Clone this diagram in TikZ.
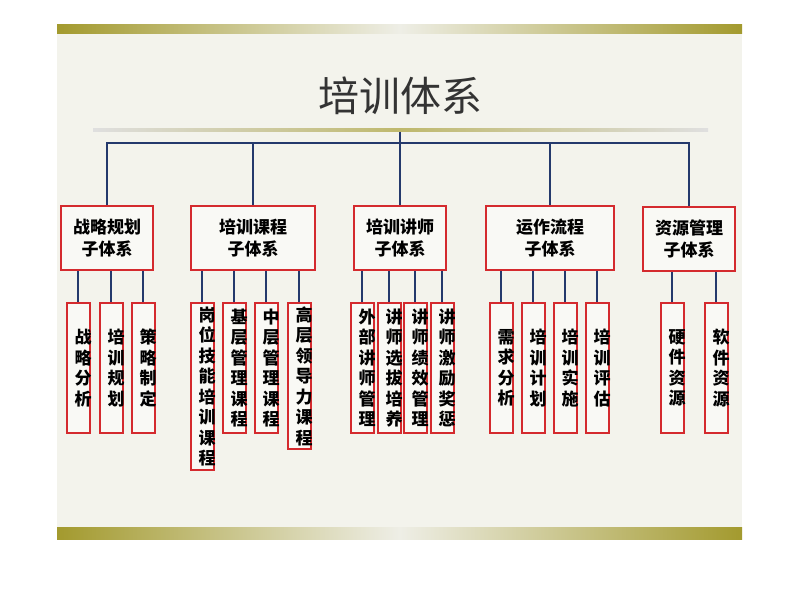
\documentclass[tikz,border=0pt]{standalone}
\usepackage{fontspec}
\newfontfamily\cjk{Noto Sans CJK SC}
\definecolor{slidebg}{HTML}{F3F3EC}
\definecolor{gold}{HTML}{A39A2E}
\definecolor{goldlight}{HTML}{EEEEE6}
\definecolor{linkblue}{HTML}{24396C}
\definecolor{boxred}{HTML}{D42A2E}
\definecolor{titlegray}{HTML}{333333}

\tikzset{
  subsys/.style={draw=boxred, line width=2.4pt, fill=slidebg!50!white, minimum height=64pt,
    inner sep=0pt, align=center, font=\cjk\bfseries\fontsize{17}{21.5}\selectfont},
  leafbox/.style={draw=boxred, line width=2pt, fill=slidebg!50!white, minimum width=23pt,
    minimum height=130pt, anchor=north, inner sep=0pt},
  leaftext/.style={xshift=5pt, align=center, font=\cjk\bfseries\fontsize{17}{20.5}\selectfont},
  link/.style={draw=linkblue, line width=1.6pt},
}

\begin{document}
\begin{tikzpicture}[x=1pt, y=-1pt]
        \useasboundingbox (0,0) rectangle (800,600);
        % slide
        \fill[white] (0,0) rectangle (800,600);
        \fill[slidebg] (57,24) rectangle (742,539);
        \shade[left color=gold, right color=gold, middle color=goldlight] (57,24) rectangle (742,33);
        \shade[left color=gold, right color=gold, middle color=goldlight] (57,527) rectangle (742,539);

        % title and rule
        \node[font=\cjk\fontsize{41}{41}\selectfont, text=titlegray] (title) at (400,96) {培训体系};
        \shade[left color=gray!25, right color=gray!25, middle color=gold!70] (93,128.5) rectangle (708,131.5);
        \coordinate (rule) at (400,131.5);
        \coordinate (bus) at (400,143);

        % sub systems
        \node[subsys, minimum width=92pt] (s1) at (107,238) {战略规划\\子体系};
        \node[subsys, minimum width=124pt] (s2) at (253,238) {培训课程\\子体系};
        \node[subsys, minimum width=92pt] (s3) at (400,238) {培训讲师\\子体系};
        \node[subsys, minimum width=128pt] (s4) at (550,238) {运作流程\\子体系};
        \node[subsys, minimum width=92pt] (s5) at (689,239) {资源管理\\子体系};

        % leaves
        \node[leafbox, label={[leaftext]center:{战\\略\\分\\析}}] (l1) at (78,302) {};
        \node[leafbox, label={[leaftext]center:{培\\训\\规\\划}}] (l2) at (111,302) {};
        \node[leafbox, label={[leaftext]center:{策\\略\\制\\定}}] (l3) at (143,302) {};

        \node[leafbox, minimum height=167pt, label={[leaftext]center:{岗\\位\\技\\能\\培\\训\\课\\程}}] (l4) at (202,302) {};
        \node[leafbox, label={[leaftext]center:{基\\层\\管\\理\\课\\程}}] (l5) at (234,302) {};
        \node[leafbox, label={[leaftext]center:{中\\层\\管\\理\\课\\程}}] (l6) at (266,302) {};
        \node[leafbox, minimum height=146pt, label={[leaftext]center:{高\\层\\领\\导\\力\\课\\程}}] (l7) at (299,302) {};

        \node[leafbox, label={[leaftext]center:{外\\部\\讲\\师\\管\\理}}] (l8) at (362,302) {};
        \node[leafbox, label={[leaftext]center:{讲\\师\\选\\拔\\培\\养}}] (l9) at (389,302) {};
        \node[leafbox, label={[leaftext]center:{讲\\师\\绩\\效\\管\\理}}] (l10) at (415,302) {};
        \node[leafbox, label={[leaftext]center:{讲\\师\\激\\励\\奖\\惩}}] (l11) at (442,302) {};

        \node[leafbox, label={[leaftext]center:{需\\求\\分\\析}}] (l12) at (501,302) {};
        \node[leafbox, label={[leaftext]center:{培\\训\\计\\划}}] (l13) at (533,302) {};
        \node[leafbox, label={[leaftext]center:{培\\训\\实\\施}}] (l14) at (565,302) {};
        \node[leafbox, label={[leaftext]center:{培\\训\\评\\估}}] (l15) at (597,302) {};

        \node[leafbox, label={[leaftext]center:{硬\\件\\资\\源}}] (l16) at (672,302) {};
        \node[leafbox, label={[leaftext]center:{软\\件\\资\\源}}] (l17) at (716,302) {};

        % connectors
        \draw[link] (rule) -- (bus);
        \draw[link] (s1.north) |- (bus) -| (s5.north);
        \draw[link] (s2.north |- bus) -- (s2.north);
        \draw[link] (s3.north |- bus) -- (s3.north);
        \draw[link] (s4.north |- bus) -- (s4.north);

        \foreach \l in {l1,l2,l3}
          \draw[link] (\l.north |- s1.south) -- (\l.north);
        \foreach \l in {l4,l5,l6,l7}
          \draw[link] (\l.north |- s2.south) -- (\l.north);
        \foreach \l in {l8,l9,l10,l11}
          \draw[link] (\l.north |- s3.south) -- (\l.north);
        \foreach \l in {l12,l13,l14,l15}
          \draw[link] (\l.north |- s4.south) -- (\l.north);
        \foreach \l in {l16,l17}
          \draw[link] (\l.north |- s5.south) -- (\l.north);
\end{tikzpicture}
\end{document}
